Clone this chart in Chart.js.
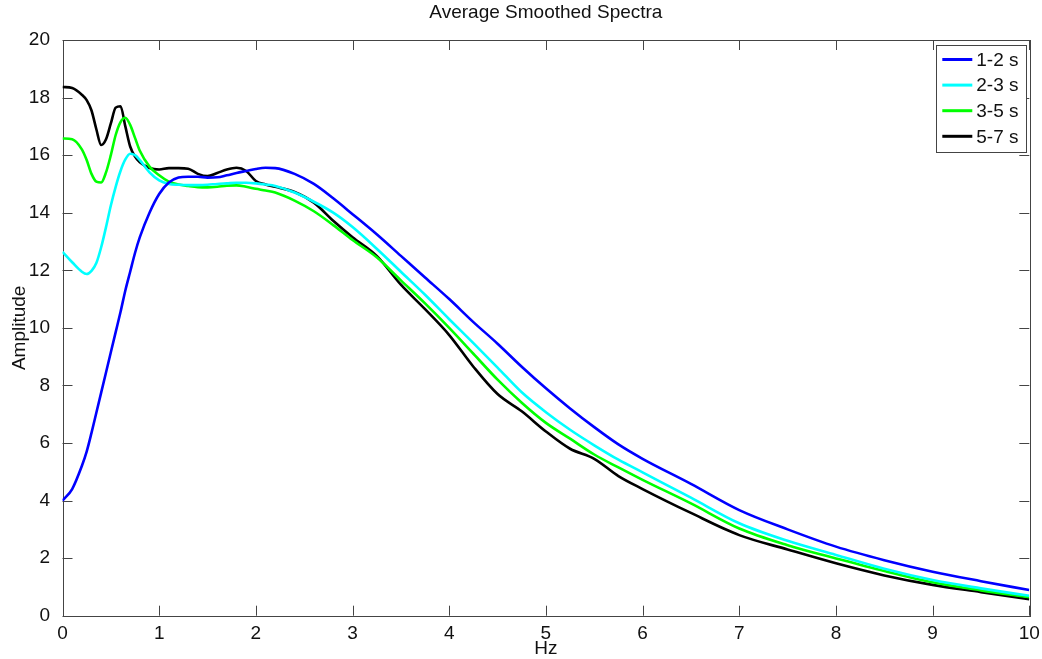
<!DOCTYPE html>
<html>
<head>
<meta charset="utf-8">
<title>Average Smoothed Spectra</title>
<script src="https://cdn.jsdelivr.net/npm/chart.js@4"></script>
<style>
  html, body { margin: 0; padding: 0; background: #fff; }
  #wrap { width: 1042px; height: 659px; position: relative; }
</style>
</head>
<body>
<div id="wrap"><canvas id="spectra"></canvas></div>
<script>
// frequency samples (Hz)
var hz = [0, 0.1, 0.2, 0.25, 0.3, 0.35, 0.4, 0.45, 0.5, 0.55, 0.6, 0.65, 0.7, 0.75, 0.8, 0.9,
  1.0, 1.1, 1.2, 1.3, 1.4, 1.5, 1.6, 1.7, 1.8, 1.9, 2.0, 2.1, 2.2, 2.4, 2.6, 2.8,
  3.0, 3.25, 3.5, 3.75, 4.0, 4.25, 4.5, 4.75, 5.0, 5.25, 5.5, 5.75, 6.0, 6.5,
  7.0, 7.5, 8.0, 8.5, 9.0, 9.5, 10];

// amplitudes per period band
var amp12 = [4.0, 4.4, 5.2, 5.7, 6.35, 7.05, 7.75, 8.45, 9.15, 9.85, 10.55, 11.3, 11.95, 12.6, 13.15, 14.0,
  14.65, 15.05, 15.22, 15.25, 15.25, 15.22, 15.23, 15.3, 15.38, 15.45, 15.52, 15.56, 15.55, 15.35, 15.0, 14.5,
  13.95, 13.25, 12.5, 11.75, 11.0, 10.2, 9.45, 8.65, 7.9, 7.2, 6.55, 5.95, 5.45, 4.58,
  3.67, 3.0, 2.4, 1.93, 1.53, 1.2, 0.89];
var amp23 = [12.64, 12.28, 11.95, 11.87, 11.98, 12.25, 12.8, 13.5, 14.25, 14.9, 15.45, 15.85, 16.05, 16.0, 15.83, 15.4,
  15.12, 15.0, 14.97, 14.96, 14.96, 14.97, 15.0, 15.02, 15.04, 15.04, 15.02, 14.98, 14.93, 14.7, 14.38, 14.0,
  13.5, 12.75, 11.95, 11.15, 10.3, 9.47, 8.62, 7.76, 7.07, 6.46, 5.92, 5.42, 4.98, 4.1,
  3.21, 2.6, 2.11, 1.63, 1.24, 0.95, 0.69];
var amp35 = [16.58, 16.55, 16.2, 15.83, 15.35, 15.08, 15.05, 15.4, 16.0, 16.7, 17.15, 17.3, 17.05, 16.6, 16.15, 15.6,
  15.3, 15.08, 14.98, 14.93, 14.89, 14.88, 14.9, 14.94, 14.95, 14.9, 14.83, 14.77, 14.7, 14.42, 14.05, 13.57,
  13.05, 12.45, 11.65, 10.85, 10.0, 9.1, 8.2, 7.4, 6.7, 6.15, 5.6, 5.15, 4.72, 3.9,
  3.03, 2.45, 1.99, 1.55, 1.16, 0.88, 0.64];
var amp57 = [18.37, 18.33, 18.1, 17.91, 17.55, 16.9, 16.35, 16.55, 17.1, 17.65, 17.7, 17.0, 16.3, 15.95, 15.75, 15.55,
  15.5, 15.55, 15.55, 15.53, 15.35, 15.27, 15.38, 15.5, 15.56, 15.45, 15.1, 14.98, 14.9, 14.72, 14.35, 13.72,
  13.15, 12.5, 11.5, 10.65, 9.75, 8.65, 7.7, 7.1, 6.4, 5.8, 5.45, 4.85, 4.4, 3.57,
  2.8, 2.3, 1.82, 1.4, 1.07, 0.82, 0.57];

var bandLabels = ['1-2 s', '2-3 s', '3-5 s', '5-7 s'];
var bandColors = ['#0000ff', '#00ffff', '#00ff00', '#000000'];
var xTickVals = [0, 1, 2, 3, 4, 5, 6, 7, 8, 9, 10];
var yTickVals = [0, 2, 4, 6, 8, 10, 12, 14, 16, 18, 20];
var chartTitle = 'Average Smoothed Spectra';

var FONT = 'Liberation Sans, Arial, sans-serif';

function pts(ys) {
  var out = [];
  for (var i = 0; i < hz.length; i++) out.push({ x: hz[i], y: ys[i] });
  return out;
}

var allAmps = [amp12, amp23, amp35, amp57];
var datasets = [];
for (var i = 0; i < allAmps.length; i++) {
  datasets.push({
    label: bandLabels[i],
    data: pts(allAmps[i]),
    borderColor: bandColors[i],
    backgroundColor: bandColors[i],
    borderWidth: 2.6,
    pointRadius: 0,
    cubicInterpolationMode: 'monotone',
    fill: false
  });
}

// matlab style box with inward ticks, title centred over the axes
var frameBox = {
  id: 'frameBox',
  beforeDatasetsDraw: function (chart) {
    var a = chart.chartArea, ctx = chart.ctx;
    var sx = chart.scales.x, sy = chart.scales.y;
    var L = 10;
    ctx.save();
    ctx.strokeStyle = '#444';
    ctx.lineWidth = 1;
    ctx.strokeRect(Math.round(a.left) + 0.5, Math.round(a.top) + 0.5,
      Math.round(a.right - a.left), Math.round(a.bottom - a.top));
    ctx.beginPath();
    xTickVals.forEach(function (v) {
      var px = Math.round(sx.getPixelForValue(v)) + 0.5;
      ctx.moveTo(px, a.bottom); ctx.lineTo(px, a.bottom - L);
      ctx.moveTo(px, a.top); ctx.lineTo(px, a.top + L);
    });
    yTickVals.forEach(function (v) {
      var py = Math.round(sy.getPixelForValue(v)) + 0.5;
      ctx.moveTo(a.left, py); ctx.lineTo(a.left + L, py);
      ctx.moveTo(a.right, py); ctx.lineTo(a.right - L, py);
    });
    ctx.stroke();

    ctx.fillStyle = '#111';
    ctx.font = '19px ' + FONT;
    ctx.textAlign = 'center';
    ctx.textBaseline = 'middle';
    ctx.fillText(chartTitle, (a.left + a.right) / 2, 13);
    ctx.restore();
  }
};

// legend box in the top right corner
var boxLegend = {
  id: 'boxLegend',
  afterDatasetsDraw: function (chart) {
    var ctx = chart.ctx, a = chart.chartArea;
    var w = 90, h = 107;
    var x0 = a.right - 3 - w, y0 = a.top + 5;
    ctx.save();
    ctx.fillStyle = '#fff';
    ctx.fillRect(x0, y0, w, h);
    ctx.strokeStyle = '#444';
    ctx.lineWidth = 1;
    ctx.strokeRect(Math.round(x0) + 0.5, Math.round(y0) + 0.5, w, h);
    ctx.font = '19px ' + FONT;
    ctx.textBaseline = 'middle';
    ctx.fillStyle = '#111';
    chart.data.datasets.forEach(function (ds, i) {
      var cy = y0 + 14.5 + i * 25.6;
      ctx.strokeStyle = ds.borderColor;
      ctx.lineWidth = 3;
      ctx.beginPath();
      ctx.moveTo(x0 + 6, cy); ctx.lineTo(x0 + 36, cy);
      ctx.stroke();
      ctx.fillText(ds.label, x0 + 40, cy + 1);
    });
    ctx.restore();
  }
};

var config = {
  type: 'line',
  data: { datasets: datasets },
  options: {
    responsive: true,
    maintainAspectRatio: false,
    animation: false,
    layout: { padding: { left: 0, right: 12.7, top: 40, bottom: 0 } },
    plugins: {
      legend: { display: false },
      tooltip: { enabled: false },
      title: { display: false }
    },
    scales: {
      x: {
        type: 'linear',
        min: 0, max: 10,
        grid: { display: false },
        border: { display: false },
        ticks: { stepSize: 1, color: '#111', padding: -1.5, maxRotation: 0,
          font: { family: FONT, size: 19 } },
        title: { display: true, text: 'Hz', color: '#111', padding: 0,
          font: { family: FONT, size: 19, lineHeight: 1.05 } },
        afterFit: function (s) { s.height = 43.3; }
      },
      y: {
        type: 'linear',
        min: 0, max: 20,
        grid: { display: false },
        border: { display: false },
        ticks: { stepSize: 2, color: '#111', padding: 4.5,
          font: { family: FONT, size: 19 } },
        title: { display: true, text: 'Amplitude', color: '#111', padding: { top: 8.5, bottom: 0 },
          font: { family: FONT, size: 19 } },
        afterFit: function (s) { s.width = 62.5; }
      }
    }
  },
  plugins: [frameBox, boxLegend]
};

var spectraChart = new Chart(document.getElementById('spectra'), config);
</script>
</body>
</html>
